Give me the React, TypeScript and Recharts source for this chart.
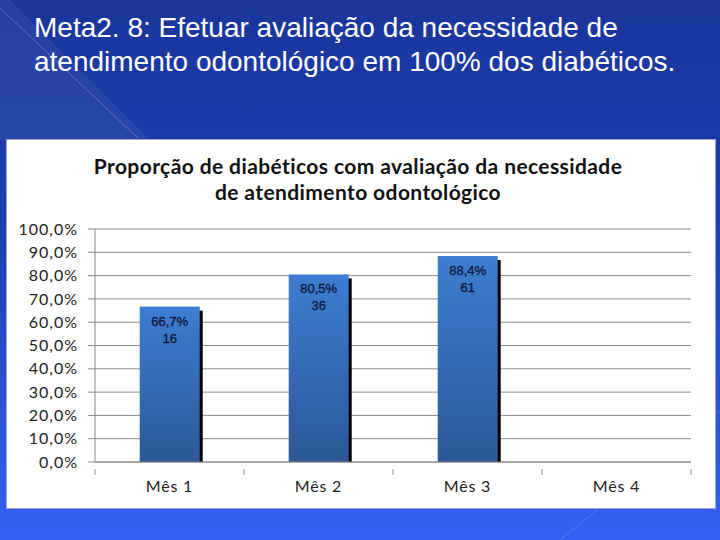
import React from 'react';
import { BarChart, Bar, XAxis, YAxis, CartesianGrid, LabelList } from 'recharts';

const months = ['Mês 1', 'Mês 2', 'Mês 3', 'Mês 4'];
const proportions = [0.667, 0.805, 0.884, null];
const counts = [16, 36, 61, null];
const yTicks = [0, 0.1, 0.2, 0.3, 0.4, 0.5, 0.6, 0.7, 0.8, 0.9, 1.0];

const data = months.map((m, i) => ({ month: m, value: proportions[i], count: counts[i] }));

const CHART_W = 708;
const CHART_H = 368;
const MARGIN = { top: 89, right: 24, left: 0, bottom: 16 };
const Y_W = 88;
const BAND = (CHART_W - MARGIN.left - MARGIN.right - Y_W) / months.length;

const pct = (v: number) => `${(v * 100).toFixed(1).replace('.', ',')}%`;

const ShadowBar = (props: any) => {
  const { x, y, width, height } = props;
  if (!height || height <= 0) return null;
  return (
    <g>
      <rect x={x + 3} y={y + 4} width={width} height={height - 4} fill="#000" />
      <rect x={x} y={y} width={width} height={height} fill="url(#barGrad)" />
    </g>
  );
};

const BarLabel = (props: any) => {
  const { x, y, width, index } = props;
  const v = proportions[index];
  const c = counts[index];
  if (v == null) return null;
  const cx = x + width / 2;
  return (
    <g
      fontFamily="'Liberation Sans', Arial, sans-serif"
      fontSize={13}
      fill="#10173e"
      stroke="#10173e"
      strokeWidth={0.35}
    >
      <text x={cx} y={y + 19} textAnchor="middle">{pct(v)}</text>
      <text x={cx} y={y + 36} textAnchor="middle">{c}</text>
    </g>
  );
};

const MonthTick = (props: any) => {
  const { x, y, payload, index } = props;
  const left = x - BAND / 2;
  return (
    <g>
      <line x1={left} y1={y - 1} x2={left} y2={y + 5} stroke="#888" />
      {index === months.length - 1 && (
        <line x1={x + BAND / 2} y1={y - 1} x2={x + BAND / 2} y2={y + 5} stroke="#888" />
      )}
      <text
        x={x}
        y={y + 22}
        textAnchor="middle"
        fontFamily="Lato, 'Open Sans', sans-serif"
        fontSize={16}
        letterSpacing={0.8}
        fill="#222"
      >
        {payload.value}
      </text>
    </g>
  );
};

export default function App() {
  return (
    <div
      style={{
        position: 'fixed',
        left: 0,
        top: 0,
        width: 720,
        height: 540,
        overflow: 'hidden',
        background: 'linear-gradient(180deg, #1a369c 0%, #1d3eb0 40%, #2b55dc 80%, #3462f4 100%)',
      }}
    >
      <svg width={720} height={540} style={{ position: 'absolute', left: 0, top: 0 }}>
        <polygon points="0,0 10,0 150,140 0,140" fill="rgba(255,255,255,0.06)" />
        <line x1={0} y1={8} x2={140} y2={140} stroke="rgba(255,255,255,0.25)" strokeWidth={1} />
        <line x1={560} y1={540} x2={720} y2={410} stroke="rgba(255,255,255,0.15)" strokeWidth={1} />
      </svg>
      <div
        style={{
          position: 'absolute',
          left: 34,
          top: 11,
          color: '#fff',
          fontFamily: "'Liberation Sans', Arial, sans-serif",
          fontSize: 28,
          lineHeight: '34px',
          whiteSpace: 'nowrap',
        }}
      >
        Meta2. 8: Efetuar avaliação da necessidade de
        <br />
        atendimento odontológico em 100% dos diabéticos.
      </div>
      <div
        style={{
          position: 'absolute',
          left: 7,
          top: 140,
          width: CHART_W,
          height: CHART_H,
          background: '#fff',
          boxShadow: '0 0 0 1px #9aa6c8',
        }}
      >
        <div
          style={{
            position: 'absolute',
            left: 0,
            top: 13,
            width: CHART_W - 6,
            textAlign: 'center',
            fontFamily: "Lato, 'Open Sans', sans-serif",
            fontWeight: 700,
            fontSize: 21,
            letterSpacing: 0.4,
            lineHeight: '26px',
            color: '#111',
          }}
        >
          Proporção de diabéticos com avaliação da necessidade
          <br />
          de atendimento odontológico
        </div>
        <BarChart width={CHART_W} height={CHART_H} data={data} margin={MARGIN} barCategoryGap="30%">
          <defs>
            <linearGradient id="barGrad" x1="0" y1="0" x2="0" y2="1">
              <stop offset="0%" stopColor="#3d7dd2" />
              <stop offset="100%" stopColor="#2b5897" />
            </linearGradient>
          </defs>
          <CartesianGrid vertical={false} stroke="#8a8a8a" />
          <XAxis
            dataKey="month"
            axisLine={{ stroke: '#888' }}
            tickLine={false}
            tick={<MonthTick />}
            height={30}
            interval={0}
          />
          <YAxis
            domain={[0, 1]}
            ticks={yTicks}
            tickFormatter={pct}
            width={Y_W}
            axisLine={{ stroke: '#888' }}
            tickLine={{ stroke: '#888' }}
            tickSize={7}
            tickMargin={10}
            tick={{ fill: '#222', fontSize: 16, letterSpacing: 1, fontFamily: "Lato, 'Open Sans', sans-serif" }}
          />
          <Bar dataKey="value" shape={<ShadowBar />} isAnimationActive={false}>
            <LabelList dataKey="value" content={<BarLabel />} />
          </Bar>
        </BarChart>
      </div>
    </div>
  );
}
